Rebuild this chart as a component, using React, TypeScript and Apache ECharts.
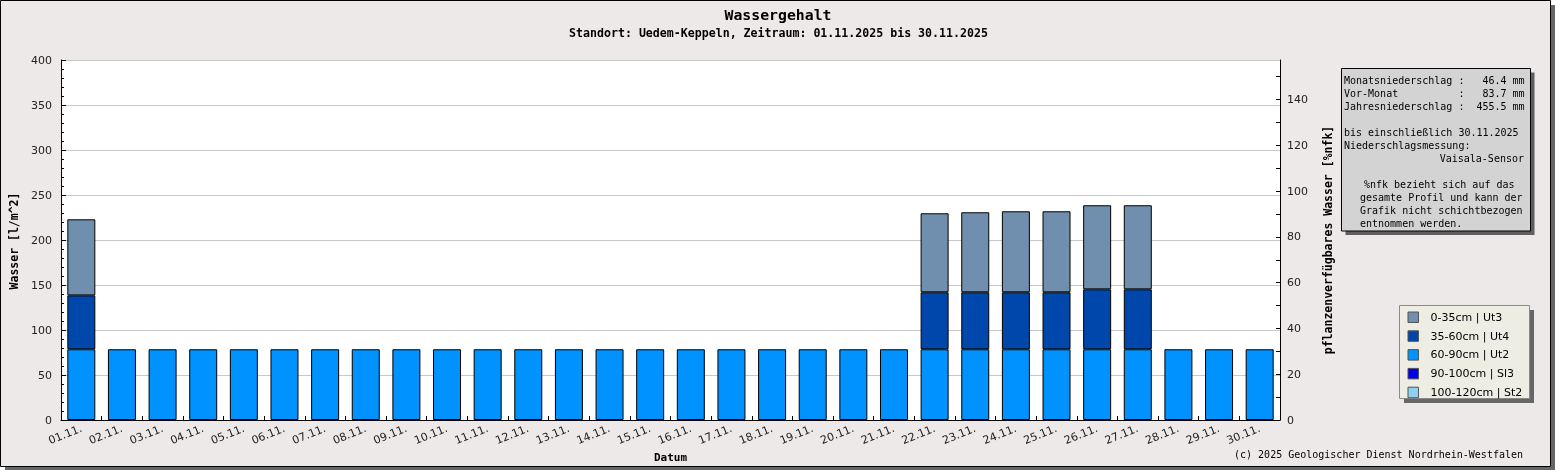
import React, { useEffect, useRef } from "react";
import * as echarts from "echarts";

const categories = [
  "01.11.", "02.11.", "03.11.", "04.11.", "05.11.", "06.11.", "07.11.", "08.11.", "09.11.", "10.11.",
  "11.11.", "12.11.", "13.11.", "14.11.", "15.11.", "16.11.", "17.11.", "18.11.", "19.11.", "20.11.",
  "21.11.", "22.11.", "23.11.", "24.11.", "25.11.", "26.11.", "27.11.", "28.11.", "29.11.", "30.11.",
];

const layer0to35 = [
  84.5, null, null, null, null, null, null, null, null, null,
  null, null, null, null, null, null, null, null, null, null,
  null, 87.8, 88.9, 90.0, 90.0, 93.4, 93.4, null, null, null,
];
const layer35to60 = [
  59.9, null, null, null, null, null, null, null, null, null,
  null, null, null, null, null, null, null, null, null, null,
  null, 63.3, 63.3, 63.3, 63.3, 66.6, 66.6, null, null, null,
];
const layer60to90 = [
  78.6, 78.6, 78.6, 78.6, 78.6, 78.6, 78.6, 78.6, 78.6, 78.6,
  78.6, 78.6, 78.6, 78.6, 78.6, 78.6, 78.6, 78.6, 78.6, 78.6,
  78.6, 78.6, 78.6, 78.6, 78.6, 78.6, 78.6, 78.6, 78.6, 78.6,
];
const layer90to100: (number | null)[] = [];
const layer100to120: (number | null)[] = [];

const seriesNames = [
  "0-35cm | Ut3",
  "35-60cm | Ut4",
  "60-90cm | Ut2",
  "90-100cm | Sl3",
  "100-120cm | St2",
];
const seriesColors = ["#708FAE", "#0047AB", "#0092FF", "#0000EE", "#8CD1F0"];

const infoLinesLeft = [
  "Monatsniederschlag :   46.4 mm",
  "Vor-Monat          :   83.7 mm",
  "Jahresniederschlag :  455.5 mm",
  "",
  "bis einschließlich 30.11.2025",
  "Niederschlagsmessung:",
];

const MONO = "'DejaVu Sans Mono', 'Liberation Mono', monospace";
const SANS = "'DejaVu Sans', sans-serif";

function buildOption() {
  const seriesData = [layer0to35, layer35to60, layer60to90, layer90to100, layer100to120];
  // stack from deepest layer (bottom) to top layer
  const order = [4, 3, 2, 1, 0];
  const series = order.map((i) => ({
    name: seriesNames[i],
    type: "bar",
    stack: "profil",
    barWidth: 28,
    data: seriesData[i],
    itemStyle: { color: seriesColors[i], borderColor: "#000", borderWidth: 1 },
    emphasis: { disabled: true },
  }));

  const lineH = 13.05;
  const infoTop = 80;
  const infoTexts: any[] = [];
  infoLinesLeft.forEach((t, k) => {
    if (!t) return;
    infoTexts.push({
      type: "text",
      z: 20,
      style: { text: t, x: 1344, y: infoTop + k * lineH, font: `10px ${MONO}`, fill: "#000", textVerticalAlign: "middle" },
    });
  });
  infoTexts.push({
    type: "text",
    z: 20,
    style: { text: "Vaisala-Sensor", x: 1524, y: infoTop + 6 * lineH, font: `10px ${MONO}`, fill: "#000", textAlign: "right", textVerticalAlign: "middle" },
  });
  const block3 = [
    { t: "%nfk bezieht sich auf das", x: 1364 },
    { t: "gesamte Profil und kann der", x: 1360 },
    { t: "Grafik nicht schichtbezogen", x: 1360 },
    { t: "entnommen werden.", x: 1360 },
  ];
  block3.forEach((b, k) => {
    infoTexts.push({
      type: "text",
      z: 20,
      style: { text: b.t, x: b.x, y: infoTop + (8 + k) * lineH, font: `10px ${MONO}`, fill: "#000", textVerticalAlign: "middle" },
    });
  });

  return {
    animation: false,
    backgroundColor: "transparent",
    grid: {
      left: 61,
      right: 275,
      top: 60,
      bottom: 50,
      show: true,
      backgroundColor: "#ffffff",
      borderWidth: 0,
      containLabel: false,
    },
    legend: {
      orient: "vertical",
      left: 1407.5,
      top: 311.5,
      padding: 0,
      itemGap: 7.3,
      itemWidth: 10.5,
      itemHeight: 10.5,
      icon: "rect",
      selectedMode: false,
      data: seriesNames,
      itemStyle: { borderColor: "#555", borderWidth: 1 },
      textStyle: { fontFamily: SANS, fontSize: 11, color: "#000", lineHeight: 11, padding: [0, 0, 0, 7] },
      z: 30,
    },
    xAxis: {
      type: "category",
      data: categories,
      axisLine: { show: true, lineStyle: { color: "#000", width: 1 } },
      axisTick: { show: true, inside: true, length: 4, interval: 0, lineStyle: { color: "#000" } },
      axisLabel: { interval: 0, rotate: 22, margin: 8, fontFamily: SANS, fontSize: 11, color: "#222" },
      splitLine: { show: false },
    },
    yAxis: [
      {
        type: "value",
        min: 0,
        max: 400,
        interval: 50,
        position: "left",
        axisLine: { show: true, lineStyle: { color: "#000", width: 1 } },
        axisTick: { show: true, inside: true, length: 5, lineStyle: { color: "#000" } },
        minorTick: { show: true, splitNumber: 5, length: 3, lineStyle: { color: "#000" } },
        axisLabel: { margin: 9, fontFamily: SANS, fontSize: 11, color: "#222" },
        splitLine: { show: true, lineStyle: { color: "#c8c8c8", width: 1 } },
      },
      {
        type: "value",
        min: 0,
        max: 157.3,
        interval: 10,
        position: "right",
        axisLine: { show: true, lineStyle: { color: "#000", width: 1 } },
        axisTick: { show: true, inside: true, length: 4, lineStyle: { color: "#000" } },
        axisLabel: {
          margin: 7,
          fontFamily: SANS,
          fontSize: 11,
          color: "#222",
          showMaxLabel: false,
          formatter: (v: number) => (Math.abs(v % 20) < 1e-6 ? String(v) : ""),
        },
        splitLine: { show: false },
      },
    ],
    series,
    graphic: [
      { type: "rect", z: -100, shape: { x: 5, y: 5, width: 1550, height: 465 }, style: { fill: "#666666" } },
      { type: "rect", z: -99, shape: { x: 0.5, y: 0.5, width: 1550, height: 466 }, style: { fill: "#ECE9E8", stroke: "#000", lineWidth: 1 } },
      {
        type: "text",
        z: 20,
        style: { text: "Wassergehalt", x: 778, y: 14, font: `bold 14.8px ${MONO}`, fill: "#000", textAlign: "center", textVerticalAlign: "middle" },
      },
      {
        type: "text",
        z: 20,
        style: { text: "Standort: Uedem-Keppeln, Zeitraum: 01.11.2025 bis 30.11.2025", x: 778.5, y: 33, font: `bold 11.6px ${MONO}`, fill: "#000", textAlign: "center", textVerticalAlign: "middle" },
      },
      {
        type: "text",
        z: 20,
        x: 14,
        y: 241,
        rotation: Math.PI / 2,
        style: { text: "Wasser [l/m^2]", x: 0, y: 0, font: `bold 11.5px ${MONO}`, fill: "#000", textAlign: "center", textVerticalAlign: "middle" },
      },
      {
        type: "text",
        z: 20,
        x: 1327.5,
        y: 240,
        rotation: Math.PI / 2,
        style: { text: "pflanzenverfügbares Wasser [%nfk]", x: 0, y: 0, font: `bold 11.5px ${MONO}`, fill: "#000", textAlign: "center", textVerticalAlign: "middle" },
      },
      {
        type: "text",
        z: 20,
        style: { text: "Datum", x: 670.5, y: 457, font: `bold 11px ${MONO}`, fill: "#000", textAlign: "center", textVerticalAlign: "middle" },
      },
      {
        type: "text",
        z: 20,
        style: { text: "(c) 2025 Geologischer Dienst Nordrhein-Westfalen", x: 1523, y: 454.5, font: `10px ${MONO}`, fill: "#000", textAlign: "right", textVerticalAlign: "middle" },
      },
      // info box
      { type: "rect", z: 10, shape: { x: 1345.5, y: 72.5, width: 189, height: 162.5 }, style: { fill: "#5E5E5E" } },
      { type: "rect", z: 11, shape: { x: 1341.5, y: 68.5, width: 189, height: 162.5 }, style: { fill: "#D3D3D3", stroke: "#000", lineWidth: 1 } },
      ...infoTexts,
      // legend box
      { type: "rect", z: 10, shape: { x: 1404, y: 310, width: 130, height: 93 }, style: { fill: "#666666" } },
      { type: "rect", z: 11, shape: { x: 1399.5, y: 305.5, width: 130, height: 93 }, style: { fill: "#EDEDE3", stroke: "#8a8a8a", lineWidth: 1 } },
    ],
  };
}

export default function App() {
  const ref = useRef<HTMLDivElement>(null);
  useEffect(() => {
    if (!ref.current) return;
    const chart = echarts.init(ref.current, null, { renderer: "svg" });
    chart.setOption(buildOption() as any);
    return () => chart.dispose();
  }, []);
  return (
    <div
      ref={ref}
      style={{ position: "fixed", left: 0, top: 0, width: 1555, height: 470 }}
    />
  );
}
